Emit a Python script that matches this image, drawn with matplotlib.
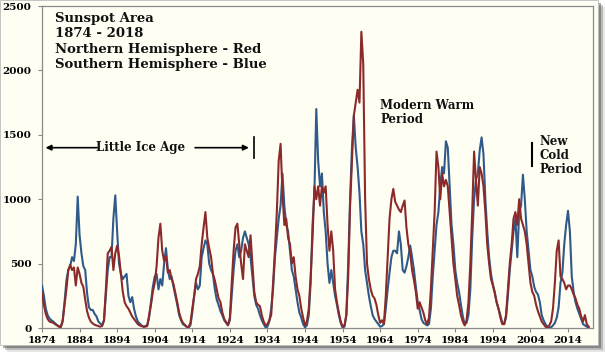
import matplotlib
matplotlib.use("Agg")
import matplotlib.pyplot as plt
from matplotlib.patches import Rectangle
import numpy as np

# half-year readings of monthly sunspot area, 1874.0 .. 2019.5
# each row: year, value at .0, value at .5
south_area = [  # blue
    330, 250, 150, 100, 75, 60, 50, 35, 23, 15, 10, 60,          # 1874-1879
    200, 370, 450, 480, 550, 520, 650, 1020, 720, 580,           # 1880-1884
    480, 450, 270, 160, 140, 140, 110, 90, 50, 35,               # 1885-1889
    20, 60, 250, 450, 550, 550, 850, 1030, 750, 500,             # 1890-1894
    420, 380, 400, 420, 250, 200, 240, 150, 90, 50,              # 1895-1899
    35, 20, 10, 15, 20, 80, 200, 320, 400, 420,                  # 1900-1904
    300, 380, 330, 500, 620, 450, 380, 400, 320, 250,            # 1905-1909
    180, 100, 60, 30, 20, 10, 5, 20, 120, 250,                   # 1910-1914
    350, 300, 330, 550, 620, 680, 650, 500, 450, 420,            # 1915-1919
    300, 220, 180, 130, 100, 60, 40, 20, 60, 250,                # 1920-1924
    450, 600, 650, 550, 600, 700, 750, 700, 650, 550,            # 1925-1929
    400, 250, 180, 150, 100, 60, 30, 5, 10, 50,                  # 1930-1934
    150, 300, 550, 700, 850, 950, 1200, 950, 800, 750,           # 1935-1939
    600, 450, 400, 300, 200, 120, 80, 30, 5, 20,                 # 1940-1944
    100, 350, 800, 1050, 1700, 1300, 1100, 1200, 900, 750,       # 1945-1949
    500, 350, 450, 350, 250, 180, 100, 40, 5, 10,                # 1950-1954
    100, 500, 1000, 1400, 1650, 1400, 1250, 1050, 750, 650,      # 1955-1959
    450, 350, 250, 170, 100, 70, 50, 30, 10, 15,                 # 1960-1964
    30, 150, 300, 430, 550, 600, 600, 580, 750, 650,             # 1965-1969
    450, 430, 480, 550, 640, 550, 450, 320, 200, 140,            # 1970-1974
    70, 40, 30, 20, 30, 150, 400, 600, 800, 900,                 # 1975-1979
    1100, 1250, 1200, 1450, 1400, 1100, 800, 650, 450, 350,      # 1980-1984
    280, 180, 90, 30, 40, 100, 300, 700, 1000, 1150,             # 1985-1989
    1200, 1380, 1480, 1350, 1000, 750, 550, 420, 340, 280,       # 1990-1994
    200, 150, 100, 40, 30, 80, 250, 450, 600, 750,               # 1995-1999
    850, 550, 900, 950, 1190, 1000, 750, 600, 450, 400,          # 2000-2004
    320, 280, 260, 200, 100, 60, 30, 10, 5, 5,                   # 2005-2009
    20, 40, 80, 160, 350, 430, 650, 800, 910, 750,               # 2010-2014
    400, 280, 200, 150, 110, 70, 30, 20, 10, 5,                  # 2015-2019
]

north_area = [  # red
    270, 180, 110, 70, 50, 45, 40, 30, 20, 10, 5, 50,            # 1874-1879
    180, 300, 450, 490, 450, 470, 330, 470, 420, 350,            # 1880-1884
    320, 220, 130, 80, 50, 35, 25, 20, 15, 10,                   # 1885-1889
    15, 60, 300, 580, 600, 630, 450, 580, 640, 560,              # 1890-1894
    420, 280, 200, 170, 150, 120, 90, 70, 50, 30,                # 1895-1899
    20, 15, 10, 10, 15, 100, 180, 280, 350, 480,                 # 1900-1904
    700, 810, 600, 520, 560, 430, 450, 380, 340, 270,            # 1905-1909
    200, 120, 70, 40, 25, 10, 5, 40, 150, 250,                   # 1910-1914
    380, 420, 480, 650, 780, 900, 700, 620, 550, 420,            # 1915-1919
    370, 300, 230, 200, 120, 70, 45, 25, 80, 350,                # 1920-1924
    600, 780, 810, 650, 500, 380, 650, 600, 550, 720,            # 1925-1929
    500, 280, 200, 180, 170, 100, 50, 20, 30, 60,                # 1930-1934
    100, 350, 600, 900, 1300, 1430, 1050, 800, 850, 700,         # 1935-1939
    650, 500, 550, 400, 300, 250, 150, 80, 20, 50,               # 1940-1944
    150, 400, 700, 1100, 1000, 1100, 950, 1100, 1050, 1100,      # 1945-1949
    800, 600, 750, 600, 300, 200, 120, 50, 10, 20,               # 1950-1954
    100, 400, 950, 1300, 1650, 1750, 1850, 1750, 2300, 2050,     # 1955-1959
    1000, 500, 380, 300, 250, 230, 180, 100, 40, 60,             # 1960-1964
    30, 250, 550, 850, 1000, 1080, 980, 950, 920, 900,           # 1965-1969
    950, 990, 780, 650, 580, 450, 370, 280, 150, 200,            # 1970-1974
    160, 120, 60, 30, 80, 300, 600, 900, 1370, 1250,             # 1975-1979
    1000, 1200, 1100, 1150, 1100, 900, 700, 500, 380, 250,       # 1980-1984
    180, 100, 50, 20, 60, 200, 500, 900, 1370, 1150,             # 1985-1989
    950, 1250, 1200, 1100, 900, 650, 500, 380, 330, 270,         # 1990-1994
    200, 150, 80, 30, 30, 100, 300, 500, 650, 850,               # 1995-1999
    900, 800, 1000, 850, 800, 750, 650, 500, 350, 280,           # 2000-2004
    250, 180, 130, 90, 50, 30, 10, 5, 20, 50,                    # 2005-2009
    150, 350, 600, 680, 400, 380, 350, 300, 330, 330,            # 2010-2014
    300, 260, 230, 180, 150, 90, 50, 100, 30, 10,                # 2015-2019
]

start_year = 1874
year_ticks = list(range(1874, 2015, 10))
area_ticks = [0, 500, 1000, 1500, 2000, 2500]

title_lines = ["Sunspot Area", "1874 - 2018",
               "Northern Hemisphere - Red", "Southern Hemisphere - Blue"]

cream = "#FEFEF3"
red = "#8C2A2A"
blue = "#2F5A8A"
serif = "DejaVu Serif"

years = start_year + 0.5 * np.arange(len(south_area))

fig = plt.figure(figsize=(6.05, 3.55), dpi=100)
fig.patch.set_facecolor("white")

# panel with drop shadow (screen-shot look)
W, H = 605.0, 355.0
for off, a in [(7, 0.15), (5, 0.3), (3, 0.5)]:
    fig.patches.append(Rectangle(((0 + off) / W, (10 - off) / H), 598 / W, 345 / H,
                                 transform=fig.transFigure, facecolor="#555555",
                                 edgecolor="none", alpha=a, zorder=-3))
fig.patches.append(Rectangle((0, 10 / H), 598 / W, 345 / H, transform=fig.transFigure,
                             facecolor=cream, edgecolor="#BBBBBB", lw=0.6, zorder=-2))

ax = fig.add_axes([42 / W, 27 / H, 551 / W, 322 / H])
ax.set_facecolor(cream)

ax.plot(years, south_area, color=blue, lw=1.5, zorder=3)
ax.plot(years, north_area, color=red, lw=1.5, zorder=4)

ax.set_xlim(1874, 2020.65)
ax.set_ylim(0, 2500)
ax.set_xticks(year_ticks)
ax.set_yticks(area_ticks)
ax.set_xticklabels([str(y) for y in year_ticks], fontfamily=serif, fontweight="bold", fontsize=7.5)
ax.set_yticklabels([str(v) for v in area_ticks], fontfamily=serif, fontweight="bold", fontsize=7.5)
ax.tick_params(axis="x", direction="out", length=3, color="#888888", pad=2.5)
ax.tick_params(axis="y", direction="out", length=3, color="#888888", pad=4.5)

for s in ax.spines.values():
    s.set_color("#8A8A8A")
    s.set_linewidth(0.9)

tkw = dict(fontfamily=serif, fontweight="bold", color="#111111")

ax.text(1877.4, 2455, "\n".join(title_lines), va="top", ha="left", fontsize=9.5,
        linespacing=1.25, **tkw)

# Little Ice Age marker
ax.text(1900.3, 1400, "Little Ice Age", ha="center", va="center", fontsize=8.5, **tkw)
ax.annotate("", xy=(1874.2, 1400), xytext=(1889.4, 1400),
            arrowprops=dict(arrowstyle="-|>", color="black", lw=1.2, mutation_scale=8))
ax.annotate("", xy=(1929.8, 1400), xytext=(1914.0, 1400),
            arrowprops=dict(arrowstyle="-|>", color="black", lw=1.2, mutation_scale=8))
ax.plot([1930.4, 1930.4], [1320, 1485], color="black", lw=1.2)

ax.text(1964.0, 1775, "Modern Warm\nPeriod", ha="left", va="top", fontsize=8.5,
        linespacing=1.05, **tkw)

ax.text(2006.3, 1500, "New\nCold\nPeriod", ha="left", va="top", fontsize=8.5,
        linespacing=1.1, **tkw)
ax.plot([2004.4, 2004.4], [1260, 1440], color="black", lw=1.5)

fig.savefig("out.png", dpi=100, facecolor=fig.get_facecolor())
